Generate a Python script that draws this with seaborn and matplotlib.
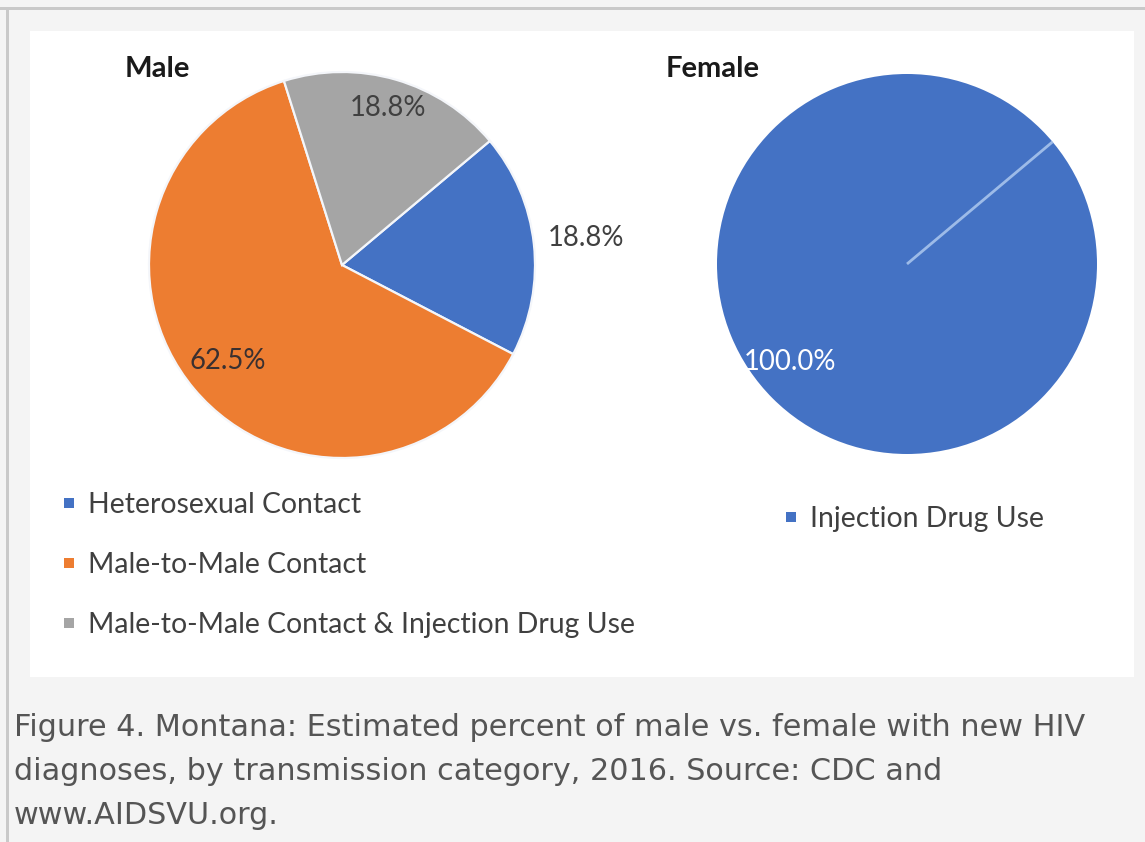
import matplotlib
matplotlib.use("Agg")
import matplotlib.pyplot as plt
from matplotlib.lines import Line2D
from matplotlib.patches import Rectangle
import numpy as np
import seaborn as sns

# ---- data -------------------------------------------------------------
male_categories = ["Heterosexual Contact", "Male-to-Male Contact",
                   "Male-to-Male Contact & Injection Drug Use"]
male_pct = [18.75, 62.5, 18.75]

female_categories = ["Injection Drug Use"]
female_pct = [100.0]

panel_titles = ["Male", "Female"]
caption_lines = [
    "Figure 4. Montana: Estimated percent of male vs. female with new HIV",
    "diagnoses, by transmission category, 2016. Source: CDC and",
    "www.AIDSVU.org.",
]

# ---- style ------------------------------------------------------------
sns.set_theme(style="white")
plt.rcParams["font.family"] = ["Lato", "DejaVu Sans"]
palette = sns.color_palette(["#4472C4", "#ED7D31", "#A5A5A5"])

W, H = 1145, 842
fig = plt.figure(figsize=(W / 100, H / 100), dpi=100, facecolor="#f4f4f4")


def fx(x):
    return x / W


def fy(y):
    return 1 - y / H


def frame_rect(x0, y0, x1, y1, color):
    fig.patches.append(Rectangle((fx(x0), fy(y1)), fx(x1) - fx(x0), fy(y0) - fy(y1),
                                 transform=fig.transFigure, facecolor=color,
                                 edgecolor="none", zorder=-10))


# page frame: grey rules on top and left, white chart panel
frame_rect(0, 7, W, 10, "#c9c9c9")
frame_rect(6, 7, 9, H, "#c9c9c9")
frame_rect(30, 31, 1134, 677, "white")


def pie_axes(cx, cy, r):
    return fig.add_axes([fx(cx - r), fy(cy + r), 2 * r / W, 2 * r / H])


def place_labels(ax, wedges, values, radii, colors, size):
    for w, v, rr, c in zip(wedges, values, radii, colors):
        mid = np.deg2rad((w.theta1 + w.theta2) / 2)
        ax.text(rr * np.cos(mid), rr * np.sin(mid), f"{v:.1f}%",
                ha="center", va="center", color=c, fontsize=size)


# ---- male pie -----------------------------------------------------------
ax_m = pie_axes(342, 265, 193)
wedges_m, _ = ax_m.pie(male_pct, colors=palette, startangle=40, counterclock=False,
                       wedgeprops=dict(edgecolor="#f4f6fa", linewidth=1.6))
ax_m.set_xlim(-1, 1)
ax_m.set_ylim(-1, 1)
place_labels(ax_m, wedges_m, male_pct, [1.27, 0.77, 0.85],
             ["#404040", "#3a3030", "#404040"], 19.8)

# ---- female pie ---------------------------------------------------------
ax_f = pie_axes(907, 264, 190)
wedges_f, _ = ax_f.pie(female_pct, colors=palette[:1], startangle=40,
                       counterclock=False, wedgeprops=dict(linewidth=0))
ax_f.set_xlim(-1, 1)
ax_f.set_ylim(-1, 1)
a0 = np.deg2rad(wedges_f[0].theta2)
ax_f.plot([0, np.cos(a0)], [0, np.sin(a0)], color="#9dbbe8", lw=2,
          solid_capstyle="butt")
place_labels(ax_f, wedges_f, female_pct, [0.80], ["white"], 19.8)

# ---- titles ---------------------------------------------------------------
fig.text(fx(125), fy(69), panel_titles[0], ha="left", va="center",
         fontsize=21, fontweight="bold", color="#1a1a1a")
fig.text(fx(666), fy(69), panel_titles[1], ha="left", va="center",
         fontsize=21, fontweight="bold", color="#1a1a1a")

# ---- legends --------------------------------------------------------------
def square(c):
    return Line2D([], [], marker="s", linestyle="none", markersize=7.5,
                  color=c, markeredgewidth=0)


leg_m = fig.legend([square(c) for c in palette], male_categories,
                   loc="center left", bbox_to_anchor=(fx(58), fy(565)),
                   bbox_transform=fig.transFigure, frameon=False,
                   fontsize=20.4, labelspacing=1.2, handlelength=0.75,
                   handletextpad=0.3, borderpad=0, borderaxespad=0,
                   labelcolor="#404040")

leg_f = fig.legend([square(palette[0])], female_categories,
                   loc="center left", bbox_to_anchor=(fx(780), fy(519)),
                   bbox_transform=fig.transFigure, frameon=False,
                   fontsize=20.4, handlelength=0.75, handletextpad=0.3,
                   borderpad=0, borderaxespad=0, labelcolor="#404040")

# ---- caption ----------------------------------------------------------------
for i, line in enumerate(caption_lines):
    fig.text(fx(14), fy(728 + 44 * i), line, ha="left", va="center",
             fontsize=21.8, color="#555555", family="DejaVu Sans")

fig.savefig("out.png", dpi=100, facecolor=fig.get_facecolor())
